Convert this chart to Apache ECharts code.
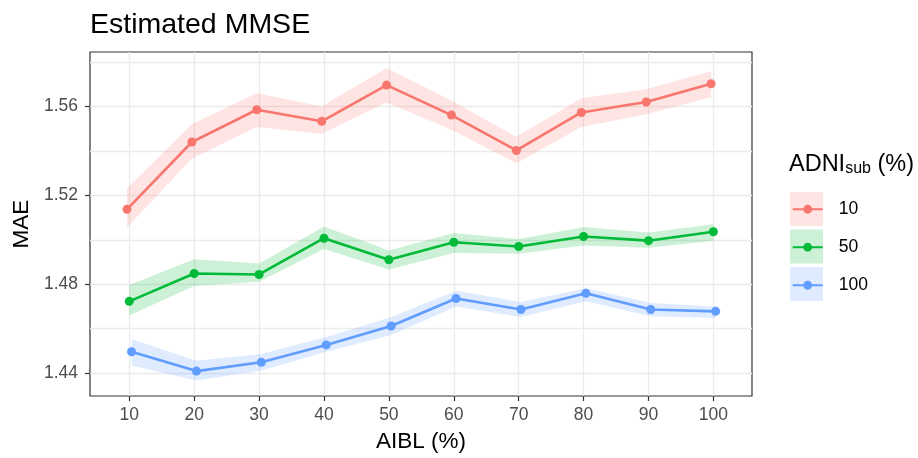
<!DOCTYPE html>
<html>
<head>
<meta charset="utf-8">
<script src="https://cdn.jsdelivr.net/npm/echarts@6/dist/echarts.min.js"></script>
<style>
  html, body { margin: 0; padding: 0; background: #fff; }
  #chart { width: 918px; height: 458px; }
</style>
</head>
<body>
<div id="chart"></div>
<script>
// ---- data ----
const aibl = [10, 20, 30, 40, 50, 60, 70, 80, 90, 100];
const groups = ['10', '50', '100'];

const mae10 = [1.5137, 1.5440, 1.5585, 1.5533, 1.5696, 1.5561, 1.5402, 1.5573, 1.5620, 1.5702];
const lo10  = [1.5055, 1.5366, 1.5507, 1.5477, 1.5618, 1.5495, 1.5344, 1.5508, 1.5565, 1.5641];
const hi10  = [1.5232, 1.5521, 1.5659, 1.5600, 1.5773, 1.5627, 1.5463, 1.5637, 1.5677, 1.5758];

const mae50 = [1.4723, 1.4848, 1.4844, 1.5007, 1.4910, 1.4989, 1.4970, 1.5015, 1.4996, 1.5036];
const lo50  = [1.4659, 1.4792, 1.4811, 1.4959, 1.4866, 1.4941, 1.4937, 1.4974, 1.4964, 1.4996];
const hi50  = [1.4797, 1.4912, 1.4893, 1.5060, 1.4952, 1.5030, 1.5003, 1.5058, 1.5033, 1.5070];

const mae100 = [1.4496, 1.4409, 1.4449, 1.4527, 1.4612, 1.4736, 1.4686, 1.4759, 1.4686, 1.4678];
const lo100  = [1.4434, 1.4367, 1.4412, 1.4496, 1.4571, 1.4700, 1.4652, 1.4723, 1.4656, 1.4648];
const hi100  = [1.4553, 1.4456, 1.4486, 1.4563, 1.4651, 1.4771, 1.4720, 1.4782, 1.4716, 1.4700];

const yMajor = [1.44, 1.48, 1.52, 1.56];
const yMinor = [1.46, 1.50, 1.54, 1.58];

// ---- styling ----
const FONT = '"Liberation Sans", Arial, Helvetica, sans-serif';
const colors = ['#F8766D', '#00BA38', '#619CFF'];
const fills = ['rgba(248,118,109,0.2)', 'rgba(0,186,56,0.2)', 'rgba(97,156,255,0.2)'];
const dodge = [-0.35, 0, 0.35];

const means = [mae10, mae50, mae100];
const lows = [lo10, lo50, lo100];
const highs = [hi10, hi50, hi100];

const series = [];
groups.forEach((g, k) => {
  series.push({
    type: 'custom',
    name: 'band' + g,
    silent: true,
    z: 1,
    data: aibl.map((x, i) => [x + dodge[k], lows[k][i], highs[k][i]]),
    encode: { x: 0, y: [1, 2] },
    renderItem: function (params, api) {
      if (params.dataIndexInside !== 0) return null;
      const n = params.dataInsideLength;
      const pts = [];
      for (let j = 0; j < n; j++) pts.push(api.coord([api.value(0, j), api.value(2, j)]));
      for (let j = n - 1; j >= 0; j--) pts.push(api.coord([api.value(0, j), api.value(1, j)]));
      return { type: 'polygon', shape: { points: pts }, style: { fill: fills[k], stroke: null } };
    }
  });
});
groups.forEach((g, k) => {
  series.push({
    type: 'line',
    name: g,
    z: 3,
    data: aibl.map((x, i) => [x + dodge[k], means[k][i]]),
    symbol: 'circle',
    symbolSize: 9,
    showSymbol: true,
    color: colors[k],
    itemStyle: { color: colors[k] },
    lineStyle: { color: colors[k], width: 2.6 }
  });
});

const chart = echarts.init(document.getElementById('chart'), null, { renderer: 'canvas' });
chart.setOption({
  animation: false,
  backgroundColor: '#fff',
  title: {
    text: 'Estimated MMSE',
    left: 90, top: 11, padding: 0,
    textStyle: { fontFamily: FONT, fontSize: 28.5, fontWeight: 'normal', color: '#000' }
  },
  grid: {
    left: 90, right: 166, top: 52, bottom: 57,
    show: true, borderColor: '#333', borderWidth: 1.2, backgroundColor: '#fff'
  },
  xAxis: {
    type: 'value', min: 3.95, max: 105.95,
    name: 'AIBL (%)', nameLocation: 'middle', nameGap: 34,
    nameTextStyle: { fontFamily: FONT, fontSize: 22.5, color: '#000' },
    axisLine: { show: false },
    axisTick: { show: true, customValues: aibl, length: 5, lineStyle: { color: '#333', width: 1.2 } },
    axisLabel: { customValues: aibl, margin: 10.5, fontFamily: FONT, fontSize: 17.5, color: '#4d4d4d' },
    splitLine: { show: true, lineStyle: { color: '#ebebeb', width: 1.3 } }
  },
  yAxis: [{
    type: 'value', min: 1.4297, max: 1.5845,
    name: 'MAE', nameLocation: 'middle', nameGap: 55,
    nameTextStyle: { fontFamily: FONT, fontSize: 22.5, color: '#000' },
    axisLine: { show: false },
    axisTick: { show: true, customValues: yMajor, length: 5, lineStyle: { color: '#333', width: 1.2 } },
    axisLabel: { customValues: yMajor, margin: 12, fontFamily: FONT, fontSize: 17.5, color: '#4d4d4d',
      formatter: v => v.toFixed(2) },
    splitLine: { show: true, lineStyle: { color: '#ebebeb', width: 1.3 } }
  }, {
    type: 'value', min: 1.4297, max: 1.5845, position: 'left',
    axisLine: { show: false },
    axisTick: { show: false, customValues: yMinor },
    axisLabel: { show: false, customValues: yMinor },
    splitLine: { show: true, lineStyle: { color: '#ebebeb', width: 1.3 } }
  }],
  legend: {
    data: groups,
    orient: 'vertical',
    left: 791.7, top: 200.25,
    padding: 0,
    itemWidth: 30, itemHeight: 11, itemGap: 20,
    selectedMode: false,
    textStyle: { fontFamily: FONT, fontSize: 17.5, color: '#000', padding: [0, 0, 0, 11] }
  },
  graphic: [
    { type: 'rect', left: 790, top: 192, z: 0, shape: { width: 33, height: 34 }, style: { fill: fills[0] } },
    { type: 'rect', left: 790, top: 229.5, z: 0, shape: { width: 33, height: 34 }, style: { fill: fills[1] } },
    { type: 'rect', left: 790, top: 267, z: 0, shape: { width: 33, height: 34 }, style: { fill: fills[2] } },
    { type: 'text', left: 789, top: 153, z: 5,
      style: { text: 'ADNI{s|sub} (%)', fontFamily: FONT, fontSize: 23.5, fill: '#000',
        rich: { s: { fontFamily: FONT, fontSize: 16, fill: '#000', verticalAlign: 'bottom' } } } }
  ],
  series: series
});
</script>
</body>
</html>
